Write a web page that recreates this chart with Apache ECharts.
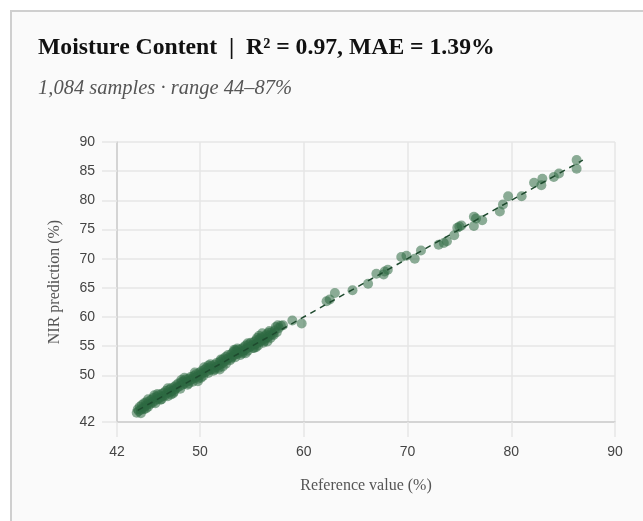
<!DOCTYPE html>
<html><head><meta charset="utf-8">
<script src="https://cdn.jsdelivr.net/npm/echarts@6/dist/echarts.min.js"></script>
<style>
html,body{margin:0;padding:0;background:#fff;width:643px;height:521px;overflow:hidden;}
#card{position:absolute;left:10px;top:10px;width:700px;height:600px;border:2px solid #cfcfcf;background:#fafafa;}
#chart{position:absolute;left:0;top:0;width:643px;height:521px;}
</style></head>
<body>
<div id="card"></div>
<div id="chart"></div>
<script>
const titleText = 'Moisture Content  |  R² = 0.97, MAE = 1.39%';
const subtitleText = '1,084 samples · range 44–87%';
const xAxisName = 'Reference value (%)';
const yAxisName = 'NIR prediction (%)';
const xTicks = [42, 50, 60, 70, 80, 90];
const yTicks = [42, 50, 55, 60, 65, 70, 75, 80, 85, 90];
const lineEnds = [[44, 44], [86.9, 86.9]];
// reference (x) and prediction (y) pairs
const samples = [
[43.9,43.6],[44.0,44.2],[44.1,43.9],[44.2,44.6],[44.3,44.1],[44.4,44.9],[44.5,44.4],[44.6,45.2],[44.7,44.7],[44.8,45.4],
[44.9,45.0],[45.0,44.6],[45.1,45.5],[45.2,45.1],[45.3,45.8],[45.4,45.3],[45.5,46.1],[45.6,45.6],[45.7,45.2],[45.8,46.3],
[45.9,45.9],[46.0,46.6],[46.1,46.1],[46.2,45.8],[46.3,46.8],[46.4,46.4],[46.5,47.0],[46.6,46.5],[46.7,47.3],[46.8,46.9],
[46.9,46.4],[47.0,47.5],[47.1,47.1],[47.2,47.8],[47.3,47.3],[47.4,46.9],[47.5,48.0],[47.6,47.6],[47.7,48.3],[47.8,47.9],
[47.9,48.6],[48.0,48.1],[48.1,47.7],[48.2,48.8],[48.3,48.4],[48.4,49.0],[48.5,48.6],[48.6,49.3],[48.7,48.9],[48.8,48.4],
[48.9,49.4],[49.0,49.1],[49.1,49.7],[49.2,49.3],[49.3,48.9],[49.4,49.9],[49.5,49.6],[49.6,50.2],[49.7,49.8],[49.8,49.4],
[49.9,50.4],[50.0,50.0],[50.1,50.7],[50.2,50.3],[50.3,49.9],[50.4,50.9],[50.5,50.5],[50.6,51.2],[50.7,50.8],[50.8,50.4],
[50.9,51.3],[51.0,51.0],[51.1,51.6],[51.2,51.1],[51.3,50.8],[51.4,51.8],[51.5,51.4],[51.6,52.1],[51.7,51.6],[51.8,51.3],
[51.9,52.3],[52.0,51.9],[52.1,52.6],[52.2,52.1],[52.3,52.9],[52.4,52.4],[52.5,53.2],[52.6,52.7],[52.7,53.5],[52.8,53.0],
[52.9,52.6],[53.0,53.6],[53.1,53.2],[53.2,54.0],[53.3,53.5],[53.4,53.1],[53.5,54.1],[53.6,53.7],[53.7,54.4],[53.8,53.9],
[53.9,53.5],[54.0,54.5],[54.1,54.1],[54.2,54.8],[54.3,54.3],[54.4,55.1],[54.5,54.6],[54.6,54.2],[54.7,55.3],[54.8,54.9],
[54.9,55.6],[55.0,55.1],[55.1,54.7],[55.2,55.7],[55.3,55.3],[55.4,56.0],[55.5,55.5],[55.6,55.1],[55.7,56.2],[55.8,55.8],
[55.9,56.5],[56.0,56.0],[56.1,55.6],[56.2,56.7],[56.3,56.3],[56.4,57.0],[56.5,56.5],[56.6,57.3],[56.7,56.8],[56.8,56.4],
[56.9,57.4],[57.0,57.1],[57.2,57.7],[57.4,57.4],[57.6,58.1],[57.8,58.5],[58.0,58.6],
[44.3,43.5],[44.6,44.2],[45.0,45.9],[45.6,46.6],[46.3,45.9],[46.9,47.8],[47.5,47.2],[48.2,49.2],[48.9,48.6],[49.5,50.5],
[50.1,49.6],[50.8,51.7],[51.4,51.0],[52.0,52.7],[52.5,52.0],[53.0,52.9],[53.6,54.6],[54.1,53.8],[54.6,55.5],[55.2,54.7],
[55.7,56.8],[56.2,55.9],[56.7,57.6],[57.1,56.9],[57.5,58.6],[56.0,57.2],[55.4,54.8],[53.4,54.3],[51.9,51.0],[50.4,51.4],
[44.8,44.3],[45.9,46.8],[47.2,46.7],[48.5,49.6],[49.8,49.0],[51.0,51.9],[52.2,51.5],[53.3,54.4],[54.4,53.8],[55.5,56.4],
[56.5,55.8],[57.3,58.3],
[58.9,59.4],[59.8,58.9],
[62.2,62.7],[62.5,63.0],[63.0,64.1],[64.7,64.6],[66.2,65.7],[67.0,67.4],[67.7,67.3],[67.8,67.8],[68.1,68.1],
[69.4,70.3],[69.9,70.5],[70.7,70.0],[71.3,71.4],[73.0,72.4],[73.5,72.7],[73.8,73.0],[74.5,74.0],[74.8,75.3],[75.0,75.5],
[75.2,75.7],[76.4,77.2],[76.6,76.9],[76.4,75.6],[77.2,76.6],[78.9,78.1],[79.2,79.3],[79.7,80.7],[81.0,80.7],[82.2,83.0],
[82.9,82.6],[83.0,83.7],[84.1,84.0],[84.6,84.6],[86.3,85.4],[86.3,86.9]
];

const chart = echarts.init(document.getElementById('chart'), null, {renderer: 'canvas'});
const sans = 'Liberation Sans, Arial, sans-serif';
const serif = 'Liberation Serif, Times New Roman, serif';
const gridCol = '#e6e6e6';
chart.setOption({
  backgroundColor: 'transparent',
  animation: false,
  title: [
    {text: titleText, left: 33, top: 31, textStyle: {fontFamily: serif, fontWeight: 'bold', fontSize: 23.7, color: '#111'}},
    {text: subtitleText, left: 33, top: 74, textStyle: {fontFamily: serif, fontStyle: 'italic', fontWeight: 'normal', fontSize: 20.5, color: '#555'}}
  ],
  grid: {left: 117, right: 28, top: 142, bottom: 99},
  xAxis: {
    type: 'value', min: 42, max: 90,
    name: xAxisName, nameLocation: 'middle', nameGap: 56,
    nameTextStyle: {fontFamily: serif, fontSize: 16, color: '#555'},
    axisLine: {show: true, onZero: false, lineStyle: {color: '#cccccc', width: 1.5}},
    axisTick: {show: true, length: 15, customValues: xTicks, lineStyle: {color: gridCol, width: 1.5}},
    axisLabel: {customValues: xTicks, margin: 23, fontFamily: sans, fontSize: 14, color: '#444'},
    splitLine: {show: true, lineStyle: {color: gridCol, width: 1.5}}
  },
  yAxis: {
    type: 'value', min: 42, max: 90,
    name: yAxisName, nameLocation: 'middle', nameGap: 54,
    nameTextStyle: {fontFamily: serif, fontSize: 16, color: '#555'},
    axisLine: {show: true, onZero: false, lineStyle: {color: '#cccccc', width: 1.5}},
    axisTick: {show: true, length: 15, customValues: yTicks, lineStyle: {color: gridCol, width: 1.5}},
    axisLabel: {customValues: yTicks, margin: 22, fontFamily: sans, fontSize: 14, color: '#444'},
    splitLine: {show: true, lineStyle: {color: gridCol, width: 1.5}}
  },
  series: [
    {type: 'scatter', data: samples, symbolSize: 10, itemStyle: {color: '#2d6a42', opacity: 0.55}, z: 2},
    {type: 'line', data: lineEnds, symbol: 'none', lineStyle: {color: '#1e4a2e', width: 1.5, type: [6, 5]}, z: 3}
  ]
});
</script>
</body></html>
